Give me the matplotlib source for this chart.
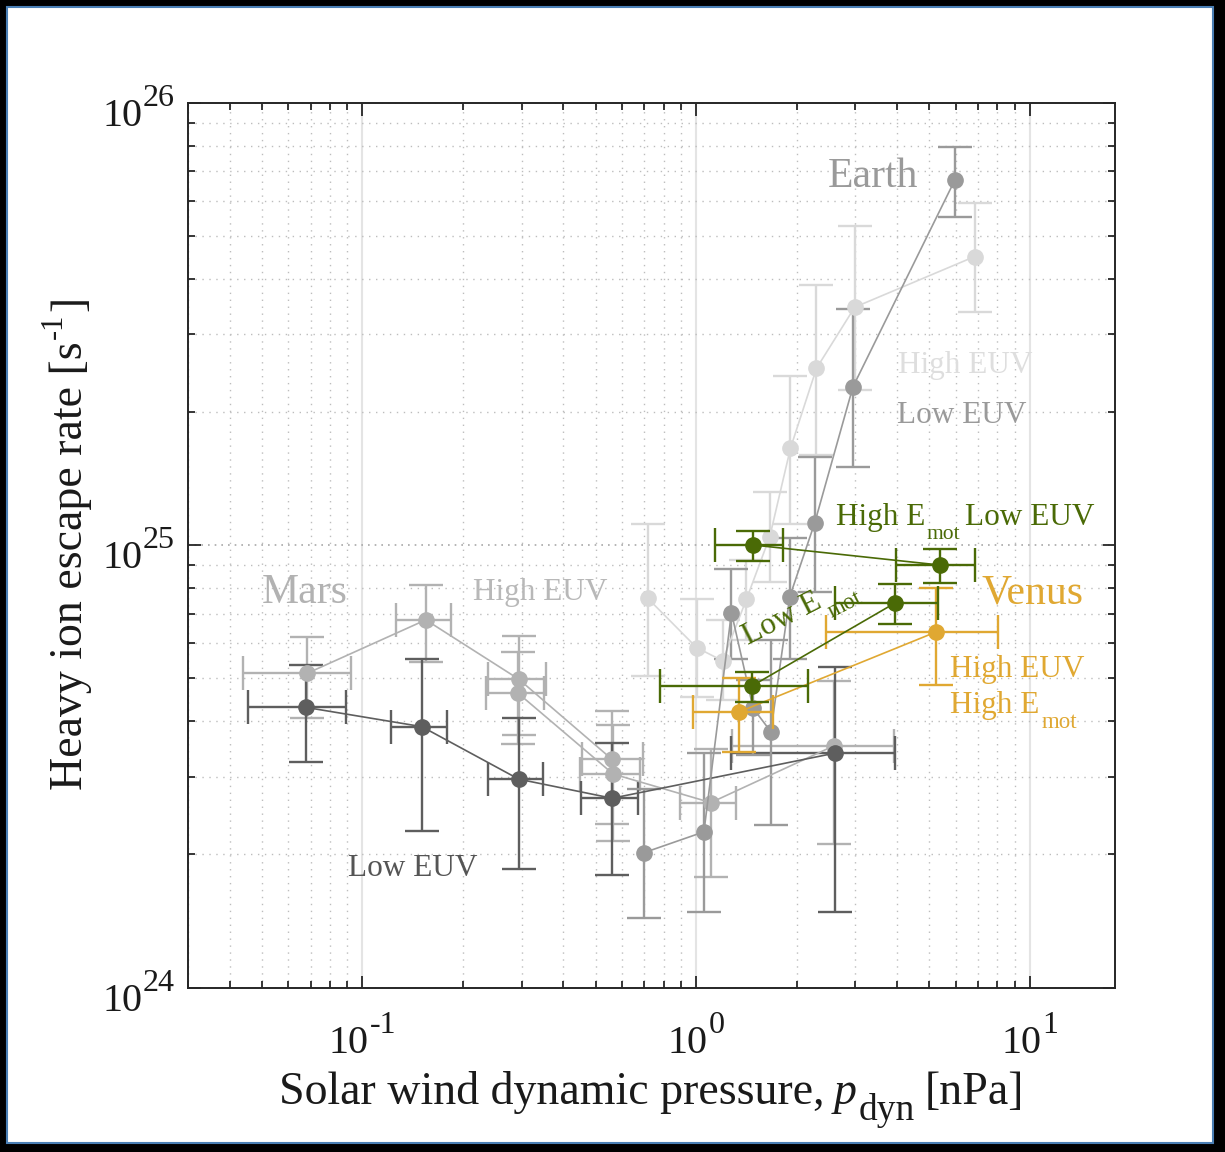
import matplotlib
matplotlib.use('Agg')
import matplotlib.pyplot as plt
import numpy as np
from matplotlib.patches import Rectangle
from matplotlib.transforms import IdentityTransform
from matplotlib.ticker import FixedLocator, NullFormatter, LogLocator

plt.rcParams['font.family'] = ['Liberation Serif', 'DejaVu Serif']

# ---- Mars, low EUV ----
mars_low_p = [0.0677, 0.1506, 0.294, 0.560, 2.61]
mars_low_p_lo = [0.0453, 0.1216, 0.2384, 0.4517, 1.276]
mars_low_p_hi = [0.0892, 0.179, 0.3467, 0.6678, 3.94]
mars_low_q = [4.30e24, 3.89e24, 2.96e24, 2.68e24, 3.39e24]
mars_low_q_lo = [3.24e24, 2.26e24, 1.85e24, 1.80e24, 1.48e24]
mars_low_q_hi = [5.36e24, 5.53e24, 4.06e24, 3.57e24, 5.31e24]

# ---- Mars, high EUV (two binnings) ----
mars_high_a_p = [0.0681, 0.1548, 0.294, 0.560]
mars_high_a_p_lo = [0.0437, 0.1261, 0.2384, 0.454]
mars_high_a_p_hi = [0.0925, 0.184, 0.354, 0.692]
mars_high_a_q = [5.13e24, 6.78e24, 4.98e24, 3.28e24]
mars_high_a_q_lo = [4.06e24, 5.44e24, 3.72e24, 2.34e24]
mars_high_a_q_hi = [6.21e24, 8.13e24, 6.23e24, 4.22e24]

mars_high_b_p = [0.2926, 0.564, 1.107, 2.585]
mars_high_b_p_lo = [0.2346, 0.4487, 0.894, 1.285]
mars_high_b_p_hi = [0.350, 0.679, 1.321, 3.915]
mars_high_b_q = [4.63e24, 3.04e24, 2.62e24, 3.52e24]
mars_high_b_q_lo = [3.55e24, 2.15e24, 1.78e24, 2.11e24]
mars_high_b_q_hi = [5.74e24, 3.92e24, 3.46e24, 4.94e24]

# ---- Earth, low EUV ----
earth_low_p = [0.699, 1.055, 1.276, 1.482, 1.674, 1.908, 2.267, 2.951, 5.963]
earth_low_q = [2.02e24, 2.25e24, 7.04e24, 4.28e24, 3.79e24, 7.65e24, 1.124e25, 2.28e25, 6.69e25]
earth_low_q_lo = [1.44e24, 1.48e24, 5.53e24, 3.36e24, 2.33e24, 5.53e24, 7.85e24, 1.505e25, 5.53e25]
earth_low_q_hi = [2.81e24, 3.40e24, 8.84e24, 4.96e24, 6.11e24, 1.036e25, 1.585e25, 3.41e25, 7.95e25]

# ---- Earth, high EUV ----
earth_high_p = [0.7155, 1.003, 1.20, 1.415, 1.662, 1.917, 2.294, 2.987, 6.83]
earth_high_q = [7.59e24, 5.87e24, 5.48e24, 7.55e24, 1.045e25, 1.656e25, 2.51e25, 3.45e25, 4.49e25]
earth_high_q_lo = [5.05e24, 4.54e24, 4.47e24, 6.11e24, 8.27e24, 1.117e25, 1.60e25, 2.24e25, 3.36e25]
earth_high_q_hi = [1.115e25, 7.56e24, 6.78e24, 9.26e24, 1.32e25, 2.41e25, 3.87e25, 5.26e25, 5.92e25]

# ---- Venus ----
venus_hi_emot_p = [1.482, 5.365]
venus_hi_emot_p_lo = [1.138, 3.96]
venus_hi_emot_p_hi = [1.822, 6.83]
venus_hi_emot_q = [1.001e25, 9.02e24]
venus_hi_emot_q_lo = [9.23e24, 8.23e24]
venus_hi_emot_q_hi = [1.079e25, 9.79e24]

venus_lo_emot_p = [1.472, 3.954]
venus_lo_emot_p_lo = [0.778, 2.603]
venus_lo_emot_p_hi = [2.164, 5.303]
venus_lo_emot_q = [4.81e24, 7.41e24]
venus_lo_emot_q_lo = [4.43e24, 6.62e24]
venus_lo_emot_q_hi = [5.18e24, 8.17e24]

venus_high_euv_p = [1.345, 5.245]
venus_high_euv_p_lo = [0.9795, 2.445]
venus_high_euv_p_hi = [1.70, 8.02]
venus_high_euv_q = [4.20e24, 6.37e24]
venus_high_euv_q_lo = [3.41e24, 4.83e24]
venus_high_euv_q_hi = [5.02e24, 7.99e24]

x_tick_vals = [0.1, 1, 10]
x_tick_exps = ['-1', '0', '1']
y_tick_vals = [1e24, 1e25, 1e26]
y_tick_exps = ['24', '25', '26']

C_MARS_LOW = '#5e5e5e'
C_MARS_HIGH = '#b2b2b2'
C_EARTH_LOW = '#9a9a9a'
C_EARTH_HIGH = '#d9d9d9'
C_GREEN = '#4a6a06'
C_GOLD = '#e0a832'
C_TEXT = '#1a1a1a'

W, H = 1225, 1152
fig = plt.figure(figsize=(W / 100, H / 100), dpi=100)
fig.patch.set_facecolor('black')
frame = Rectangle((7 / W, 9 / H), 1206 / W, 1136 / H,
                  transform=fig.transFigure, facecolor='white',
                  edgecolor='#4a7fb5', linewidth=1.5, zorder=-10)
fig.patches.append(frame)

ax = fig.add_axes([188 / W, 1 - 987.7 / H, 927 / W, 885 / H])
ax.set_zorder(1)
ax.set_facecolor('white')
ax.set_xscale('log')
ax.set_yscale('log')
ax.set_xlim(0.03, 18)
ax.set_ylim(1e24, 1e26)


def draw(p, q, qlo, qhi, color, plo=None, phi=None, z=3):
    p = np.asarray(p)
    q = np.asarray(q)
    yerr = [q - np.asarray(qlo), np.asarray(qhi) - q]
    xerr = None
    if plo is not None:
        xerr = [p - np.asarray(plo), np.asarray(phi) - p]
    ax.errorbar(p, q, yerr=yerr, xerr=xerr, fmt='o-', color=color,
                markersize=11, linewidth=1.2, elinewidth=1.7, capsize=12,
                capthick=1.7, zorder=z)


draw(mars_high_a_p, mars_high_a_q, mars_high_a_q_lo, mars_high_a_q_hi, C_MARS_HIGH,
     mars_high_a_p_lo, mars_high_a_p_hi)
draw(mars_high_b_p, mars_high_b_q, mars_high_b_q_lo, mars_high_b_q_hi, C_MARS_HIGH,
     mars_high_b_p_lo, mars_high_b_p_hi)
draw(mars_low_p, mars_low_q, mars_low_q_lo, mars_low_q_hi, C_MARS_LOW,
     mars_low_p_lo, mars_low_p_hi)
draw(earth_high_p, earth_high_q, earth_high_q_lo, earth_high_q_hi, C_EARTH_HIGH)
draw(earth_low_p, earth_low_q, earth_low_q_lo, earth_low_q_hi, C_EARTH_LOW)
draw(venus_high_euv_p, venus_high_euv_q, venus_high_euv_q_lo, venus_high_euv_q_hi, C_GOLD,
     venus_high_euv_p_lo, venus_high_euv_p_hi, z=4)
draw(venus_lo_emot_p, venus_lo_emot_q, venus_lo_emot_q_lo, venus_lo_emot_q_hi, C_GREEN,
     venus_lo_emot_p_lo, venus_lo_emot_p_hi, z=5)
draw(venus_hi_emot_p, venus_hi_emot_q, venus_hi_emot_q_lo, venus_hi_emot_q_hi, C_GREEN,
     venus_hi_emot_p_lo, venus_hi_emot_p_hi, z=5)

# ticks and grid
ax.xaxis.set_major_locator(FixedLocator(x_tick_vals))
ax.yaxis.set_major_locator(FixedLocator(y_tick_vals))
ax.xaxis.set_minor_locator(LogLocator(base=10, subs=np.arange(2, 10), numticks=20))
ax.yaxis.set_minor_locator(LogLocator(base=10, subs=np.arange(2, 10), numticks=20))
ax.xaxis.set_minor_formatter(NullFormatter())
ax.yaxis.set_minor_formatter(NullFormatter())
ax.tick_params(which='both', direction='in', top=True, right=True, colors='#262626',
               width=1.3, labelbottom=False, labelleft=False)
ax.tick_params(which='major', length=9)
ax.tick_params(which='minor', length=5)

ax.grid(which='minor', axis='both', linestyle=(0, (1, 4)), color='#bdbdbd', linewidth=1.0)
ax.xaxis.grid(True, which='major', linestyle='-', color='#e4e4e4', linewidth=1.5)
ax.yaxis.grid(True, which='major', linestyle=(0, (1, 3)), color='#a8a8a8', linewidth=1.2)
ax.set_axisbelow(True)
for s in ax.spines.values():
    s.set_color('#262626')
    s.set_linewidth(1.4)

# ---- text with raised / lowered pieces (super- and subscripts) ----
renderer = fig.canvas.get_renderer()
IDT = IdentityTransform()


def measure(s, size, style):
    t = fig.text(0, 0, s, fontsize=size, style=style, transform=IDT)
    w = t.get_window_extent(renderer).width
    t.remove()
    return w


def rich(x0, y0, parts, color, ha='left', rotation=0.0, z=10):
    """parts: (string, fontsize, rise_px, style, gap_px); x0, y0 in display px."""
    widths = [measure(s, sz, st) for s, sz, r, st, g in parts]
    total = sum(w + p[4] for w, p in zip(widths, parts))
    u = {'left': 0.0, 'center': -total / 2, 'right': -total}[ha]
    c, sn = np.cos(np.deg2rad(rotation)), np.sin(np.deg2rad(rotation))
    for w, (s, sz, r, st, g) in zip(widths, parts):
        u += g
        fig.text(x0 + u * c - r * sn, y0 + u * sn + r * c, s, fontsize=sz, style=st,
                 color=color, transform=IDT, ha='left', va='baseline',
                 rotation=rotation, rotation_mode='anchor', zorder=z)
        u += w


def img(xp, yp):
    return xp, H - yp


# tick labels
for v, e in zip(y_tick_vals, y_tick_exps):
    xd, yd = ax.transData.transform((ax.get_xlim()[0], v))
    rich(xd - 13, yd - 23, [('10', 29, 0, 'normal', 0), (e, 23, 20, 'normal', 1)],
         C_TEXT, ha='right')
for v, e in zip(x_tick_vals, x_tick_exps):
    xd, yd = ax.transData.transform((v, ax.get_ylim()[0]))
    rich(xd, yd - 65, [('10', 29, 0, 'normal', 0), (e, 23, 20, 'normal', 1)],
         C_TEXT, ha='center')

# axis labels
rich(*img(651.5, 1104), [('Solar wind dynamic pressure,', 33, 0, 'normal', 0),
                          ('p', 33, 0, 'italic', 9),
                          ('dyn', 27, -16, 'normal', 2),
                          ('[nPa]', 33, 0, 'normal', 10)], C_TEXT, ha='center')
rich(*img(82, 543), [('Heavy ion escape rate [s', 33, 0, 'normal', 0),
                     ('-1', 22, 20, 'normal', 2),
                     (']', 33, 0, 'normal', 3)], C_TEXT, ha='center', rotation=90)

# annotations
rich(*img(305, 603.3), [('Mars', 30, 0, 'normal', 0)], C_MARS_HIGH, ha='center')
rich(*img(540, 600), [('High EUV', 22.5, 0, 'normal', 0)], '#b8b8b8', ha='center')
rich(*img(413, 876), [('Low EUV', 22.5, 0, 'normal', 0)], '#555555', ha='center')
rich(*img(873, 187.3), [('Earth', 30, 0, 'normal', 0)], C_EARTH_LOW, ha='center')
rich(*img(898, 373.3), [('High EUV', 22.5, 0, 'normal', 0)], '#dedede')
rich(*img(896.7, 423.3), [('Low EUV', 22.5, 0, 'normal', 0)], C_EARTH_LOW)
rich(*img(836, 525), [('High E', 22.5, 0, 'normal', 0), ('mot', 15.5, -14, 'normal', 1)],
     C_GREEN)
rich(*img(965, 525), [('Low EUV', 22.5, 0, 'normal', 0)], C_GREEN)
rich(*img(981.7, 603.3), [('Venus', 30, 0, 'normal', 0)], C_GOLD)
rich(*img(950, 676.7), [('High EUV', 22.5, 0, 'normal', 0)], C_GOLD)
rich(*img(950, 713.3), [('High E', 22.5, 0, 'normal', 0), ('mot', 16.5, -15, 'normal', 2)],
     C_GOLD)
rich(*img(748.3, 645), [('Low E', 22.5, 0, 'normal', 0), ('mot', 16.5, -14, 'normal', 2)],
     C_GREEN, rotation=27)

fig.savefig('out.png', dpi=100, facecolor=fig.get_facecolor())
